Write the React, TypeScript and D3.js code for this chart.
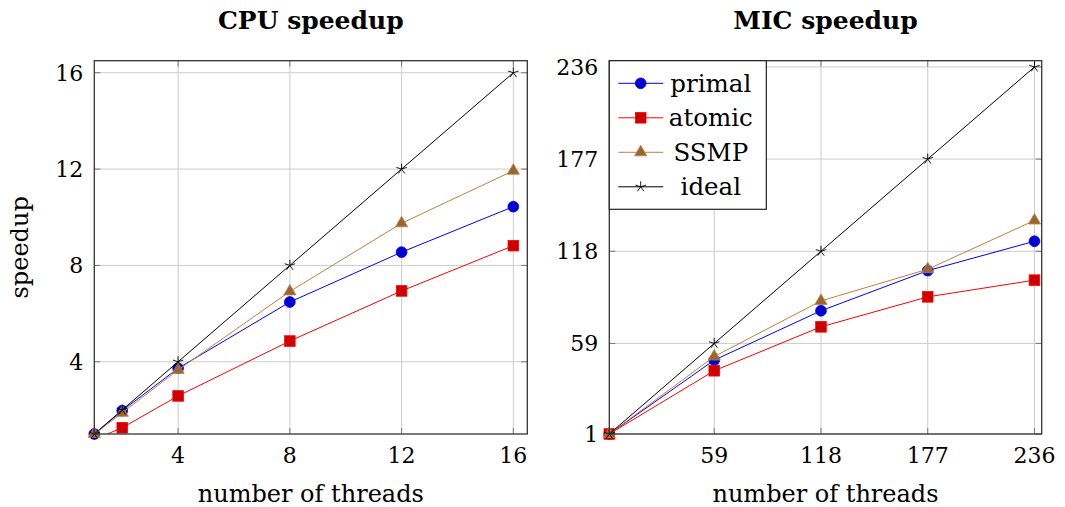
import React from "react";
import * as d3 from "d3";

// ---------- data ----------
const cpuThreads = [1, 2, 4, 8, 12, 16];
const cpuPrimal = [1, 1.97, 3.73, 6.48, 8.55, 10.44];
const cpuAtomic = [0.77, 1.26, 2.58, 4.86, 6.94, 8.82];
const cpuSSMP = [1, 1.88, 3.66, 6.92, 9.75, 11.93];
const cpuIdeal = [1, 2, 4, 8, 12, 16];
const cpuXTicks = [4, 8, 12, 16];
const cpuYTicks = [4, 8, 12, 16];

const micThreads = [1, 59, 118, 177, 236];
const micPrimal = [1, 48.3, 79.9, 105.6, 124.4];
const micAtomic = [1, 41.5, 69.6, 88.8, 99.5];
const micSSMP = [1, 50.6, 86.2, 106.5, 137.7];
const micIdeal = [1, 59, 118, 177, 236];
const micXTicks = [59, 118, 177, 236];
const micYTicks = [1, 59, 118, 177, 236];

const seriesNames = ["primal", "atomic", "SSMP", "ideal"];

// ---------- styles ----------
const FONT = "'DejaVu Serif', serif";
const styles: Record<string, { stroke: string; fill: string; mark: string; mstroke: string }> = {
  primal: { stroke: "#0000ff", fill: "#0000cc", mstroke: "#0000ff", mark: "circle" },
  atomic: { stroke: "#ff0000", fill: "#cc0000", mstroke: "#ff0000", mark: "square" },
  SSMP: { stroke: "#bf8040", fill: "#996633", mstroke: "#bf8040", mark: "triangle" },
  ideal: { stroke: "#000000", fill: "none", mstroke: "#000000", mark: "star" },
};

function Marker({ kind, x, y, s }: { kind: string; x: number; y: number; s: typeof styles[string] }) {
  if (kind === "circle") return <circle cx={x} cy={y} r={5.4} fill={s.fill} stroke={s.mstroke} strokeWidth={0.8} />;
  if (kind === "square") return <rect x={x - 5.3} y={y - 5.3} width={10.6} height={10.6} fill={s.fill} stroke={s.mstroke} strokeWidth={0.8} />;
  if (kind === "triangle") {
    const r = 7;
    const pts = [0, 1, 2].map((i) => {
      const a = -Math.PI / 2 + (i * 2 * Math.PI) / 3;
      return `${x + r * Math.cos(a)},${y + r * Math.sin(a)}`;
    });
    return <polygon points={pts.join(" ")} fill={s.fill} stroke={s.mstroke} strokeWidth={0.8} />;
  }
  // star: 5 spokes
  const r = 5.5;
  const d = [0, 1, 2, 3, 4]
    .map((i) => {
      const a = -Math.PI / 2 + (i * 2 * Math.PI) / 5;
      return `M${x},${y}L${x + r * Math.cos(a)},${y + r * Math.sin(a)}`;
    })
    .join("");
  return <path d={d} stroke={s.mstroke} strokeWidth={0.9} fill="none" />;
}

type PanelProps = {
  id: string;
  left: number;
  right: number;
  top: number;
  bottom: number;
  domain: [number, number];
  xs: number[];
  series: Record<string, number[]>;
  xTicks: number[];
  yTicks: number[];
  title: string;
  yLabel?: string;
  legend?: boolean;
};

function Panel(p: PanelProps) {
  const x = d3.scaleLinear().domain(p.domain).range([p.left, p.right]);
  const y = d3.scaleLinear().domain(p.domain).range([p.bottom, p.top]);
  const line = d3
    .line<[number, number]>()
    .x((d) => x(d[0]))
    .y((d) => y(d[1]));
  const cx = (p.left + p.right) / 2;
  const cy = (p.top + p.bottom) / 2;
  const tickLen = 6;
  return (
    <g>
      <defs>
        <clipPath id={`clip-${p.id}`}>
          <rect x={p.left} y={p.top} width={p.right - p.left} height={p.bottom - p.top} />
        </clipPath>
      </defs>
      {/* grid */}
      {p.xTicks.map((t) => (
        <line key={`gx${t}`} x1={x(t)} x2={x(t)} y1={p.top} y2={p.bottom} stroke="#cccccc" strokeWidth={1} />
      ))}
      {p.yTicks.map((t) => (
        <line key={`gy${t}`} x1={p.left} x2={p.right} y1={y(t)} y2={y(t)} stroke="#cccccc" strokeWidth={1} />
      ))}
      {/* tick marks */}
      {p.xTicks.map((t) => (
        <g key={`tx${t}`} stroke="#777" strokeWidth={1}>
          <line x1={x(t)} x2={x(t)} y1={p.bottom} y2={p.bottom - tickLen} />
          <line x1={x(t)} x2={x(t)} y1={p.top} y2={p.top + tickLen} />
        </g>
      ))}
      {p.yTicks.map((t) => (
        <g key={`ty${t}`} stroke="#777" strokeWidth={1}>
          <line x1={p.left} x2={p.left + tickLen} y1={y(t)} y2={y(t)} />
          <line x1={p.right} x2={p.right - tickLen} y1={y(t)} y2={y(t)} />
        </g>
      ))}
      {/* lines */}
      {seriesNames.map((name) => {
        const s = styles[name];
        const data = p.xs.map((v, i) => [v, p.series[name][i]] as [number, number]);
        return (
          <g key={name}>
            <path d={line(data) || ""} fill="none" stroke={s.stroke} strokeWidth={1} clipPath={`url(#clip-${p.id})`} />
            {data
              .filter((d) => d[1] >= p.domain[0])
              .map((d, i) => (
                <Marker key={i} kind={s.mark} x={x(d[0])} y={y(d[1])} s={s} />
              ))}
          </g>
        );
      })}
      {/* frame */}
      <rect x={p.left} y={p.top} width={p.right - p.left} height={p.bottom - p.top} fill="none" stroke="#333" strokeWidth={1.3} />
      {/* tick labels */}
      {p.xTicks.map((t) => (
        <text key={`lx${t}`} x={x(t)} y={p.bottom + 28.5} textAnchor="middle" fontSize={22} fontFamily={FONT} fill="#000">
          {t}
        </text>
      ))}
      {p.yTicks.map((t) => (
        <text key={`ly${t}`} x={p.left - 11} y={y(t) + 8} textAnchor="end" fontSize={22} fontFamily={FONT} fill="#000">
          {t}
        </text>
      ))}
      {/* labels */}
      <text x={cx} y={501.5} textAnchor="middle" fontSize={24} fontFamily={FONT} fill="#000">
        number of threads
      </text>
      <text x={cx} y={28.5} textAnchor="middle" fontSize={25} fontWeight="bold" fontFamily={FONT} fill="#000">
        {p.title}
      </text>
      {p.yLabel && (
        <text transform={`translate(28,${cy}) rotate(-90)`} textAnchor="middle" fontSize={24} fontFamily={FONT} fill="#000">
          {p.yLabel}
        </text>
      )}
      {p.legend && (
        <g>
          <rect x={p.left} y={p.top} width={157} height={148.6} fill="#fff" stroke="#222" strokeWidth={1.2} />
          {seriesNames.map((name, i) => {
            const s = styles[name];
            const ry = p.top + 22.6 + i * 34.5;
            return (
              <g key={name}>
                <line x1={p.left + 9} x2={p.left + 54} y1={ry} y2={ry} stroke={s.stroke} strokeWidth={1} />
                <Marker kind={s.mark} x={p.left + 31.4} y={ry} s={s} />
                <text x={p.left + 101.5} y={ry + 8.4} textAnchor="middle" fontSize={24.5} fontFamily={FONT} fill="#000">
                  {name}
                </text>
              </g>
            );
          })}
        </g>
      )}
    </g>
  );
}

export default function App() {
  return (
    <svg width={1065} height={507} style={{ position: "absolute", left: 0, top: 0, background: "#fff" }}>
      <rect width={1065} height={507} fill="#fff" />
      <Panel
        id="cpu"
        left={94.3}
        right={527.3}
        top={60.7}
        bottom={434}
        domain={[1, 16.5]}
        xs={cpuThreads}
        series={{ primal: cpuPrimal, atomic: cpuAtomic, SSMP: cpuSSMP, ideal: cpuIdeal }}
        xTicks={cpuXTicks}
        yTicks={cpuYTicks}
        title="CPU speedup"
        yLabel="speedup"
      />
      <Panel
        id="mic"
        left={609.3}
        right={1041.7}
        top={60.7}
        bottom={434}
        domain={[1, 240]}
        xs={micThreads}
        series={{ primal: micPrimal, atomic: micAtomic, SSMP: micSSMP, ideal: micIdeal }}
        xTicks={micXTicks}
        yTicks={micYTicks}
        title="MIC speedup"
        legend
      />
    </svg>
  );
}
